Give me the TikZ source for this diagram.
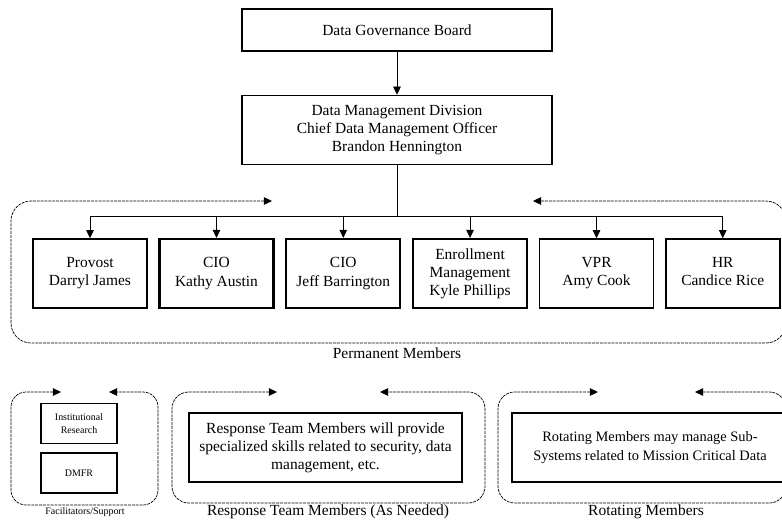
\documentclass[tikz,border=0pt]{standalone}
\usepackage{fontspec}
\setmainfont{Liberation Serif}
\usetikzlibrary{arrows.meta,positioning}
\newcommand{\mainfs}{\fontsize{13.2}{15.5}\selectfont}
\newcommand{\smallfs}{\fontsize{8.5}{10.5}\selectfont}
\tikzset{
  basebox/.style={rectangle,draw=black,line width=1.3pt,align=center,
                  font=\mainfs,inner sep=2pt},
  topnode/.style={basebox,minimum width=9.3cm},
  membnode/.style={basebox,minimum width=3.42cm,minimum height=2.07cm},
  thkmemb/.style={membnode,line width=1.8pt},
  smallnode/.style={basebox,minimum width=2.28cm,minimum height=1.2cm,
                    font=\smallfs},
  widenode/.style={basebox,minimum height=2.07cm},
  grplabel/.style={font=\mainfs},
  arr/.style={-{Triangle[length=7pt,width=6.5pt]},line width=0.7pt},
  grparr/.style={{Triangle[length=7pt,width=6.5pt]}-{Triangle[length=7pt,width=6.5pt]},
                 dash pattern=on 2.5pt off 0.8pt,line width=0.6pt,
                 rounded corners=0.6cm}
}

\begin{document}
\begin{tikzpicture}[x=0.03cm,y=-0.03cm]
  \useasboundingbox (0,0) rectangle (782,521);
  \clip (0,0) rectangle (782,521);

  % Board and division
  \node[topnode,minimum height=1.26cm] (gdb) at (397,30) {Data Governance Board};
  \node[topnode,minimum height=2.07cm,below=1.29cm of gdb] (dmd)
      {Data Management Division\\
       Chief Data Management Officer\\
       Brandon Hennington};

  % Permanent members
  \node[membnode] (provost) at (90,273.5) {Provost\\Darryl James};
  \node[thkmemb,right=0.32cm of provost] (cioka) {CIO\\Kathy Austin};
  \node[thkmemb,right=0.32cm of cioka] (ciojb) {CIO\\Jeff Barrington};
  \node[thkmemb,right=0.32cm of ciojb] (enroll)
      {Enrollment\\Management\\Kyle Phillips};
  \node[membnode,right=0.32cm of enroll] (vpr) {VPR\\Amy Cook};
  \node[membnode,right=0.32cm of vpr] (hr) {HR\\Candice Rice\vphantom{y}};

  % Arrows
  \coordinate (hub) at (397,216);
  \draw[arr] (gdb) -- (dmd);
  \draw[line width=0.7pt] (dmd.south) -- (hub);
  \draw[arr] (hub) -| (provost.north);
  \draw[arr] (hub) -| (cioka.north);
  \draw[arr] (hub) -| (ciojb.north);
  \draw[arr] (hub) -| (enroll.north);
  \draw[arr] (hub) -| (vpr.north);
  \draw[arr] (hub) -| (hr.north);

  \draw[grparr] (272,201) -- (11,201) -- (11,343) -- (786,343)
      -- (786,201) -- (533,201);
  \node[grplabel] (permlbl) at (397,353) {Permanent Members};

  % Facilitators
  \node[smallnode] (instres) at (79,423.5) {Institutional\\Research};
  \node[smallnode] (dmfr) at (79,473) {DMFR};
  \draw[grparr,rounded corners=0.45cm] (61,392) -- (11,392) -- (11,505)
      -- (158,505) -- (158,392) -- (109,392);
  \node[font=\smallfs] (faclbl) at (85,512) {Facilitators/Support};

  % Response team
  \node[widenode,minimum width=8.19cm] (resp) at (325.5,447.5)
      {Response Team Members will provide\\
       specialized skills related to security, data\\
       management, etc.};
  \draw[grparr,rounded corners=0.5cm] (277,392) -- (172,392) -- (172,503)
      -- (485,503) -- (485,392) -- (380,392);
  \node[grplabel] (resplbl) at (328,512) {Response Team Members (As Needed)};

  % Rotating members
  \node[widenode,minimum width=8.28cm,font=\fontsize{12.3}{15.5}\selectfont]
      (rot) at (650,447.5)
      {Rotating Members may manage Sub-\\
       Systems related to Mission Critical Data};
  \draw[grparr,rounded corners=0.5cm] (598,392) -- (498,392) -- (498,503)
      -- (786,503) -- (786,392) -- (695,392);
  \node[grplabel] (rotlbl) at (646,512) {Rotating Members};

\end{tikzpicture}
\end{document}
